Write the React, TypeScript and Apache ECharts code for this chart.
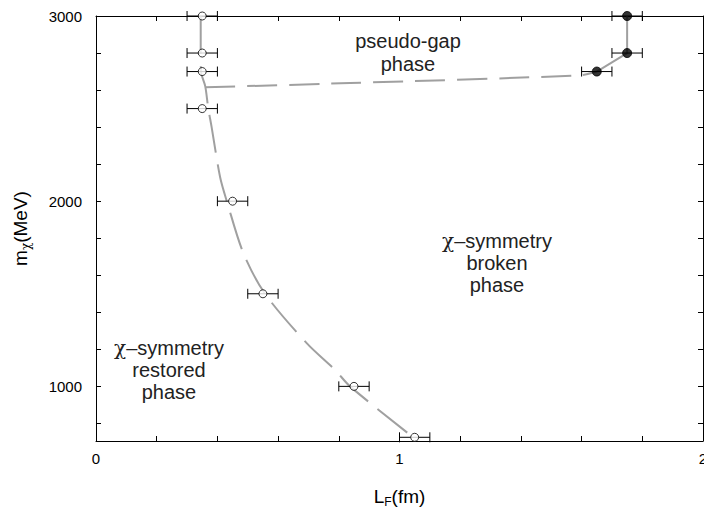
import React, { useEffect, useRef } from "react";
import * as echarts from "echarts";

// ---- data ----
const xTicks = [0, 0.2, 0.4, 0.6, 0.8, 1, 1.2, 1.4, 1.6, 1.8, 2];
const xLabels = [0, 1, 2];
const yTicks = [800, 1000, 1200, 1400, 1600, 1800, 2000, 2200, 2400, 2600, 2800, 3000];
const yLabels = [1000, 2000, 3000];
const xMin = 0;
const xMax = 2;
const yMin = 705;
const yMax = 3000;

// open circles (chi-symmetry restoration points)
const openX = [0.35, 0.35, 0.35, 0.35, 0.45, 0.55, 0.85, 1.05];
const openY = [3000, 2800, 2700, 2500, 2000, 1500, 1000, 725];
// filled circles
const filledX = [1.75, 1.75, 1.65];
const filledY = [3000, 2800, 2700];
const xErr = 0.05;

// dashed boundary curve (restored / broken)
const curveX = [0.345, 0.345, 0.346, 0.36, 0.37, 0.381, 0.409, 0.431, 0.486, 0.557, 0.695, 0.788, 0.837, 1.045];
const curveY = [3000, 2800, 2700, 2620, 2500, 2400, 2129, 2000, 1718, 1500, 1232, 1088, 1000, 725];
// dashed pseudo-gap boundary
const gapX = [0.36, 0.837, 1.596, 1.65];
const gapY = [2615, 2638, 2680, 2700];
// solid segment through filled points
const solidX = [1.65, 1.75, 1.75];
const solidY = [2700, 2800, 3000];

const pairs = (xs: number[], ys: number[]) => xs.map((x, i) => [x, ys[i]]);

export default function App() {
  const ref = useRef<HTMLDivElement>(null);
  useEffect(() => {
    if (!ref.current) return;
    const chart = echarts.init(ref.current, null, { renderer: "svg" });
    const font = "'Liberation Sans', Arial, sans-serif";
    const lineCommon = { show: true, onZero: false, lineStyle: { color: "#000", width: 1 } };
    const tickCommon = { show: true, inside: true, length: 5, lineStyle: { color: "#000" } };
    const labelCommon = {
      color: "#000",
      fontFamily: font,
      fontSize: 15,
      formatter: (v: number) => String(v),
    };
    const errData = [
      ...openX.map((x, i) => [x, openY[i], xErr]),
      ...filledX.map((x, i) => [x, filledY[i], xErr]),
    ];
    const gray = "#a0a0a0";
    const nameRich = (subFont: string) => ({
      m: { fontFamily: font, fontSize: 19, color: "#000", lineHeight: 24 },
      s: { fontFamily: subFont, fontSize: 12, color: "#000", lineHeight: 12, verticalAlign: "bottom" },
    });
    const option: any = {
      animation: false,
      backgroundColor: "#fff",
      grid: { left: 96, top: 16, right: 1, bottom: 67, outerBoundsMode: "none", containLabel: false },
      xAxis: [
        {
          type: "value",
          position: "bottom",
          min: xMin,
          max: xMax,
          axisLine: lineCommon,
          splitLine: { show: false },
          axisTick: { ...tickCommon, customValues: xTicks },
          axisLabel: { ...labelCommon, customValues: xLabels, margin: 10 },
          name: "{m|L}{s|F}{m|(fm)}",
          nameLocation: "middle",
          nameGap: 43,
          nameTextStyle: { rich: nameRich(font) },
        },
        {
          type: "value",
          position: "top",
          min: xMin,
          max: xMax,
          axisLine: lineCommon,
          splitLine: { show: false },
          axisTick: { ...tickCommon, customValues: xTicks },
          axisLabel: { show: false },
        },
      ],
      yAxis: [
        {
          type: "value",
          position: "left",
          min: yMin,
          max: yMax,
          axisLine: lineCommon,
          splitLine: { show: false },
          axisTick: { ...tickCommon, customValues: yTicks },
          axisLabel: { ...labelCommon, customValues: yLabels, margin: 14 },
          name: "{m|m}{s|χ}{m|(MeV)}",
          nameLocation: "middle",
          nameGap: 64,
          nameRotate: 90,
          nameTextStyle: { rich: nameRich("'DejaVu Serif', serif") },
        },
        {
          type: "value",
          position: "right",
          min: yMin,
          max: yMax,
          axisLine: lineCommon,
          splitLine: { show: false },
          axisTick: { ...tickCommon, customValues: yTicks },
          axisLabel: { show: false },
        },
      ],
      series: [
        {
          type: "line",
          data: pairs(curveX, curveY),
          smooth: 0.3,
          symbol: "none",
          lineStyle: { color: gray, width: 2, type: [38, 12] },
          z: 1,
        },
        {
          type: "line",
          data: pairs(gapX, gapY),
          smooth: 0.3,
          symbol: "none",
          lineStyle: { color: gray, width: 2, type: [30, 12] },
          z: 1,
        },
        {
          type: "line",
          data: pairs(solidX, solidY),
          symbol: "none",
          lineStyle: { color: gray, width: 2, type: "solid" },
          z: 1,
        },
        {
          type: "custom",
          data: errData,
          z: 2,
          renderItem: (params: any, api: any) => {
            const x = api.value(0);
            const y = api.value(1);
            const e = api.value(2);
            const p1 = api.coord([x - e, y]);
            const p2 = api.coord([x + e, y]);
            const h = 5;
            const st = { stroke: "#000", lineWidth: 1 };
            return {
              type: "group",
              children: [
                { type: "line", shape: { x1: p1[0], y1: p1[1], x2: p2[0], y2: p2[1] }, style: st },
                { type: "line", shape: { x1: p1[0], y1: p1[1] - h, x2: p1[0], y2: p1[1] + h }, style: st },
                { type: "line", shape: { x1: p2[0], y1: p2[1] - h, x2: p2[0], y2: p2[1] + h }, style: st },
              ],
            };
          },
        },
        {
          type: "scatter",
          data: pairs(openX, openY),
          symbol: "circle",
          symbolSize: 8,
          itemStyle: { color: "#fff", borderColor: "#000", borderWidth: 1 },
          clip: false,
          z: 3,
        },
        {
          type: "scatter",
          data: pairs(filledX, filledY),
          symbol: "circle",
          symbolSize: 9,
          itemStyle: { color: "#000", borderColor: "#000", borderWidth: 1 },
          clip: false,
          z: 3,
        },
      ],
      graphic: [
        {
          type: "text",
          x: 408,
          y: 52,
          style: {
            text: "pseudo-gap\nphase",
            fontFamily: font,
            fontSize: 20,
            lineHeight: 23,
            fill: "#222",
            align: "center",
            verticalAlign: "middle",
          },
        },
        {
          type: "text",
          x: 497,
          y: 263,
          style: {
            text: "{c|χ}–symmetry\nbroken\nphase",
            fontFamily: font,
            fontSize: 20,
            lineHeight: 22,
            fill: "#222",
            align: "center",
            verticalAlign: "middle",
            rich: {
              c: { fontFamily: "'DejaVu Serif', serif", fontSize: 20, fill: "#222", lineHeight: 22 },
            },
          },
        },
        {
          type: "text",
          x: 169,
          y: 370,
          style: {
            text: "{c|χ}–symmetry\nrestored\nphase",
            fontFamily: font,
            fontSize: 20,
            lineHeight: 22,
            fill: "#222",
            align: "center",
            verticalAlign: "middle",
            rich: {
              c: { fontFamily: "'DejaVu Serif', serif", fontSize: 20, fill: "#222", lineHeight: 22 },
            },
          },
        },
      ],
    };
    chart.setOption(option);
    return () => chart.dispose();
  }, []);
  return (
    <div
      ref={ref}
      style={{ position: "fixed", left: 0, top: 0, width: 704, height: 508, background: "#fff" }}
    />
  );
}
